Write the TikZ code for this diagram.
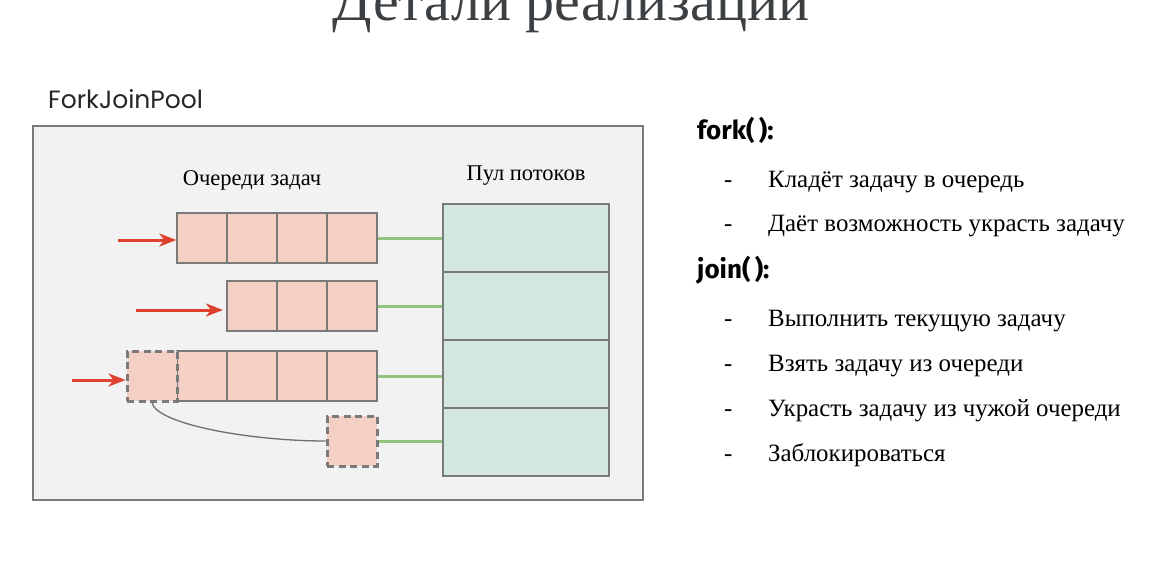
\documentclass[tikz,border=0pt]{standalone}
\usepackage{fontspec}
\setmainfont{Liberation Serif}
\newfontfamily\labelsans{Poppins}
\newfontfamily\headsans{Fira Sans}
\usetikzlibrary{arrows.meta}
\definecolor{cellfill}{HTML}{F4D0C4}
\definecolor{poolfill}{HTML}{D3E6DF}
\definecolor{edgegray}{HTML}{7A7A7A}
\definecolor{linkgreen}{HTML}{93C47D}
\definecolor{pushred}{HTML}{E0412F}
\definecolor{paneback}{HTML}{F2F2F2}
\definecolor{titlegray}{HTML}{3C4043}
\tikzset{
  task/.style={draw=edgegray, fill=cellfill, line width=1.4pt, minimum width=50pt, minimum height=50pt, inner sep=0pt},
  stolen/.style={task, dash pattern=on 7pt off 4.5pt, line width=3pt},
  worker/.style={draw=edgegray, fill=poolfill, line width=1.4pt, minimum width=166pt, minimum height=68pt, inner sep=0pt},
  link/.style={draw=linkgreen, line width=3pt},
  push/.style={draw=pushred, line width=3pt, -{Stealth[length=17pt,width=13pt,inset=5pt]}},
  bullet/.style={anchor=base west, font=\fontsize{24.9}{28}\selectfont, inner sep=0pt},
  dashmark/.style={anchor=base west, font=\fontsize{24.9}{28}\selectfont, inner sep=0pt},
  heading/.style={anchor=base west, font=\headsans\bfseries\fontsize{26}{30}\selectfont, inner sep=0pt},
  caption/.style={anchor=base, font=\fontsize{22.5}{26}\selectfont, inner sep=0pt},
}
\begin{document}
\begin{tikzpicture}[x=1pt, y=-1pt]
\useasboundingbox (0,0) rectangle (1176,582);
\fill[white] (0,0) rectangle (1176,582);

% heading, partly above the page edge
\node[anchor=base, text=titlegray, font=\fontsize{58}{60}\selectfont, inner sep=0pt] (title) at (571,20) {Детали реализации};

% pool frame
\node[anchor=base west, font=\labelsans\fontsize{25}{28}\selectfont, text=black!85, inner sep=0pt] (fjp) at (48,108) {ForkJoinPool};
\node[draw=edgegray, fill=paneback, line width=1.4pt, minimum width=610pt, minimum height=374pt, inner sep=0pt] (frame) at (338,313) {};

\node[caption] (qlabel) at (252,185) {Очереди задач};
\node[caption] (plabel) at (526,180) {Пул потоков};

% worker threads
\node[worker] (p1) at (526,238) {};
\node[worker] (p2) at (526,306) {};
\node[worker] (p3) at (526,374) {};
\node[worker] (p4) at (526,442) {};

% queue 1
\node[task] (a1) at (202,238) {};
\node[task] (a2) at (252,238) {};
\node[task] (a3) at (302,238) {};
\node[task] (a4) at (352,238) {};
% queue 2
\node[task] (b2) at (252,306) {};
\node[task] (b3) at (302,306) {};
\node[task] (b4) at (352,306) {};
% queue 3
\node[task] (c1) at (202,376) {};
\node[task] (c2) at (252,376) {};
\node[task] (c3) at (302,376) {};
\node[task] (c4) at (352,376) {};
\node[stolen] (c0) at (152,376) {};
% task taken by the fourth worker
\node[stolen] (d4) at (352,441) {};

% queues to workers
\draw[link] (a4.east) -- (p1.west);
\draw[link] (b4.east) -- (p2.west);
\draw[link] (c4.east) -- ([yshift=-2pt]p3.west);
\draw[link] (d4.east) -- (p4.west |- d4.east);

% steal path
\draw[edgegray!90!black, line width=1.3pt] (c0.south) .. controls (156,424) and (250,441) .. (d4.west);

% incoming tasks
\coordinate (ina) at (118,240);
\coordinate (inb) at (136,310);
\coordinate (inc) at (72,380);
\draw[push] (ina) -- (a1.west |- ina);
\draw[push] (inb) -- (223,310);
\draw[push] (inc) -- (c0.west |- inc);

% method notes
\node[heading] (fork) at (697,139) {fork(\,):};
\node[dashmark] (f1d) at (724,187) {-};
\node[bullet] (f1) at (768,187) {Кладёт задачу в очередь};
\node[dashmark] (f2d) at (724,231) {-};
\node[bullet] (f2) at (768,231) {Даёт возможность украсть задачу};
\node[heading] (join) at (697,278) {join(\,):};
\node[dashmark] (j1d) at (724,326) {-};
\node[bullet] (j1) at (768,326) {Выполнить текущую задачу};
\node[dashmark] (j2d) at (724,371) {-};
\node[bullet] (j2) at (768,371) {Взять задачу из очереди};
\node[dashmark] (j3d) at (724,416) {-};
\node[bullet] (j3) at (768,416) {Украсть задачу из чужой очереди};
\node[dashmark] (j4d) at (724,461) {-};
\node[bullet] (j4) at (768,461) {Заблокироваться};
\end{tikzpicture}
\end{document}
